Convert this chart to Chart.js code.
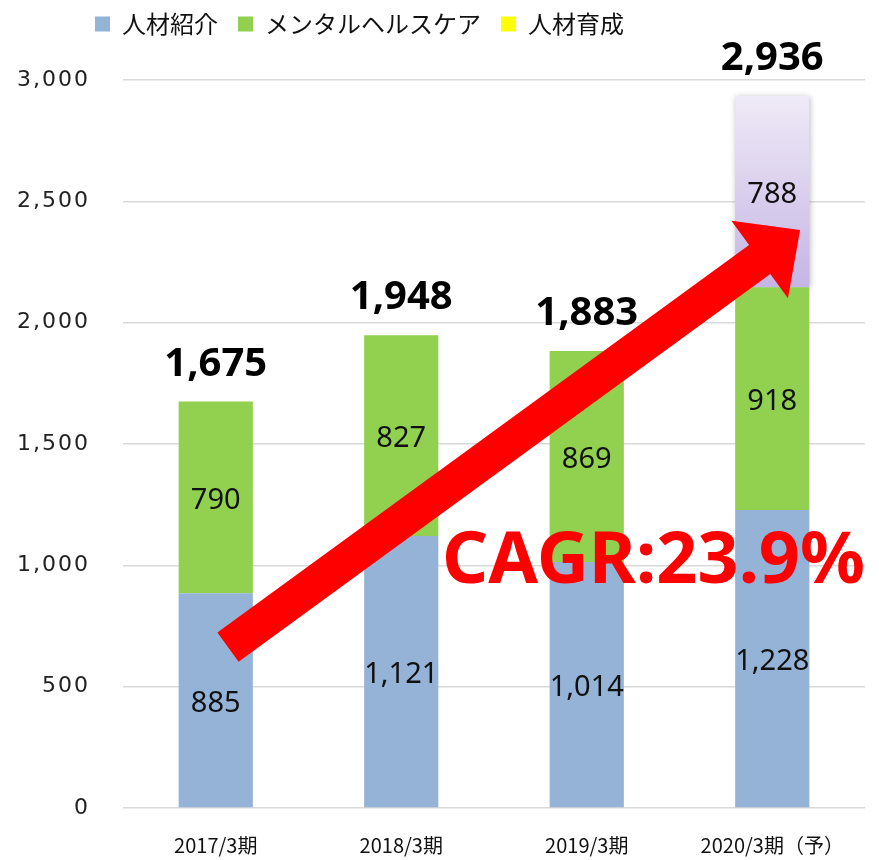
<!DOCTYPE html>
<html><head><meta charset="utf-8">
<script src="https://cdn.jsdelivr.net/npm/chart.js@4"></script>
<style>html,body{margin:0;padding:0;background:#fff}#wrap{width:879px;height:860px}</style>
</head><body><div id="wrap"><canvas id="c" width="879" height="860"></canvas></div>
<script>
const categories = ['2017/3期', '2018/3期', '2019/3期', '2020/3期（予）'];
const seriesNames = ['人材紹介', 'メンタルヘルスケア', '人材育成'];
const jinzaiShokai = [885, 1121, 1014, 1228];
const mentalHealth = [790, 827, 869, 918];
const jinzaiIkusei = [null, null, null, 788];
const totals = [1675, 1948, 1883, 2936];
const yTicks = [0, 500, 1000, 1500, 2000, 2500, 3000];
const cagrText = 'CAGR:23.9%';
// annotation anchors in data space: [category index, value]
const arrowFrom = [0.066, 663];
const arrowTo = [3.15, 2382];
const cagrAt = [1.22, 927];

const fmt = v => v.toLocaleString('en-US');

function purpleGradient(ctx) {
  const chart = ctx.chart;
  if (!chart.chartArea) return '#D8CDEE';
  const i = ctx.dataIndex;
  const y = chart.scales.y;
  const base = jinzaiShokai[i] + mentalHealth[i];
  const top = base + (jinzaiIkusei[i] || 0);
  const g = chart.ctx.createLinearGradient(0, y.getPixelForValue(top), 0, y.getPixelForValue(base));
  g.addColorStop(0, '#EFEAF7');
  g.addColorStop(1, '#C5B5E4');
  return g;
}

const extras = {
  id: 'extras',
  beforeInit(chart) {
    const lg = chart.legend;
    const orig = lg.fit;
    lg.fit = function () { orig.call(this); this.height = 80; };
  },
  afterLayout(chart) {
    const s = chart.scales.y;
    if (!s._ls) {
      s._ls = true;
      const orig = s.drawLabels;
      s.drawLabels = function (area) {
        const c = this.ctx; c.save(); c.letterSpacing = '2px'; orig.call(this, area); c.restore();
      };
    }
  },
  beforeDraw(chart) {
    chart.legend.left = 75;
    chart.legend.top = -8;
  },
  beforeDatasetDraw(chart, args) {
    if (args.index === 2) {
      const c = chart.ctx; c.save();
      c.shadowColor = 'rgba(0,0,0,0.28)'; c.shadowBlur = 6; c.shadowOffsetX = 1; c.shadowOffsetY = 1;
    }
  },
  afterDatasetDraw(chart, args) {
    if (args.index === 2) chart.ctx.restore();
  },
  afterDatasetsDraw(chart) {
    const c = chart.ctx;
    const xs = chart.scales.x, ys = chart.scales.y;
    // segment labels
    c.save();
    c.font = '29px "Noto Sans"';
    c.fillStyle = '#111';
    c.textAlign = 'center';
    c.textBaseline = 'middle';
    chart.data.datasets.forEach((ds, d) => {
      chart.getDatasetMeta(d).data.forEach((bar, i) => {
        const v = ds.data[i];
        if (v == null) return;
        const p = bar.getProps(['x', 'y', 'base'], true);
        c.fillText(fmt(v), p.x, (p.y + p.base) / 2 + 3);
      });
    });
    c.restore();
    // arrow
    const x0 = xs.getPixelForValue(arrowFrom[0]), y0 = ys.getPixelForValue(arrowFrom[1]);
    const x1 = xs.getPixelForValue(arrowTo[0]), y1 = ys.getPixelForValue(arrowTo[1]);
    const dx = x1 - x0, dy = y1 - y0, L = Math.hypot(dx, dy);
    const ux = dx / L, uy = dy / L, nx = -uy, ny = ux;
    const sw = 18, hw = 48, hl = 50;
    const bx = x1 - ux * hl, by = y1 - uy * hl;
    c.save();
    c.fillStyle = '#FF0000';
    c.beginPath();
    c.moveTo(x0 + nx * sw, y0 + ny * sw);
    c.lineTo(bx + nx * sw, by + ny * sw);
    c.lineTo(bx + nx * hw, by + ny * hw);
    c.lineTo(x1, y1);
    c.lineTo(bx - nx * hw, by - ny * hw);
    c.lineTo(bx - nx * sw, by - ny * sw);
    c.lineTo(x0 - nx * sw, y0 - ny * sw);
    c.closePath();
    c.fill();
    // CAGR text
    c.font = 'bold 72px "Noto Sans"';
    c.textAlign = 'left';
    c.textBaseline = 'alphabetic';
    c.fillText(cagrText, xs.getPixelForValue(cagrAt[0]), ys.getPixelForValue(cagrAt[1]));
    // totals
    c.fillStyle = '#000';
    c.font = 'bold 40px "Noto Sans"';
    c.textAlign = 'center';
    totals.forEach((t, i) => {
      c.fillText(fmt(t), xs.getPixelForValue(i), ys.getPixelForValue(t) - 26);
    });
    c.restore();
  }
};

new Chart(document.getElementById('c'), {
  type: 'bar',
  data: {
    labels: categories,
    datasets: [
      { label: seriesNames[0], data: jinzaiShokai, backgroundColor: '#95B3D7', borderWidth: 0 },
      { label: seriesNames[1], data: mentalHealth, backgroundColor: '#92D050', borderWidth: 0 },
      { label: seriesNames[2], data: jinzaiIkusei, backgroundColor: purpleGradient, borderWidth: 0 }
    ]
  },
  options: {
    responsive: false,
    animation: false,
    events: [],
    barPercentage: 0.8,
    categoryPercentage: 0.5,
    layout: { padding: { top: 0, right: 14, left: 0, bottom: 0 } },
    plugins: {
      tooltip: { enabled: false },
      legend: {
        position: 'top',
        align: 'start',
        labels: {
          boxWidth: 15, boxHeight: 15, padding: 20,
          color: '#111',
          font: { family: '"Noto Sans CJK JP"', size: 24 },
          generateLabels(chart) {
            const items = Chart.defaults.plugins.legend.labels.generateLabels(chart);
            const colors = ['#95B3D7', '#92D050', '#FFFF00'];
            items.forEach((it, k) => { it.fillStyle = colors[k]; it.strokeStyle = colors[k]; it.lineWidth = 0; });
            return items;
          }
        }
      }
    },
    scales: {
      x: {
        stacked: true,
        afterFit(s) { s.height = 52; },
        grid: { display: false, drawTicks: false },
        border: { display: false },
        ticks: { color: '#111', padding: 25, maxRotation: 0, font: { family: '"Noto Sans CJK JP"', size: 20 } }
      },
      y: {
        stacked: true,
        min: 0, max: 3000,
        afterBuildTicks(s) { s.ticks = yTicks.map(v => ({ value: v })); },
        afterFit(s) { s.width = 123; },
        grid: { color: '#D9D9D9', lineWidth: 1.5, drawTicks: false },
        border: { display: false },
        ticks: { color: '#222', padding: 33, font: { family: '"DejaVu Sans"', size: 22 }, callback: v => fmt(v) }
      }
    }
  },
  plugins: [extras]
});
</script>
</body></html>
